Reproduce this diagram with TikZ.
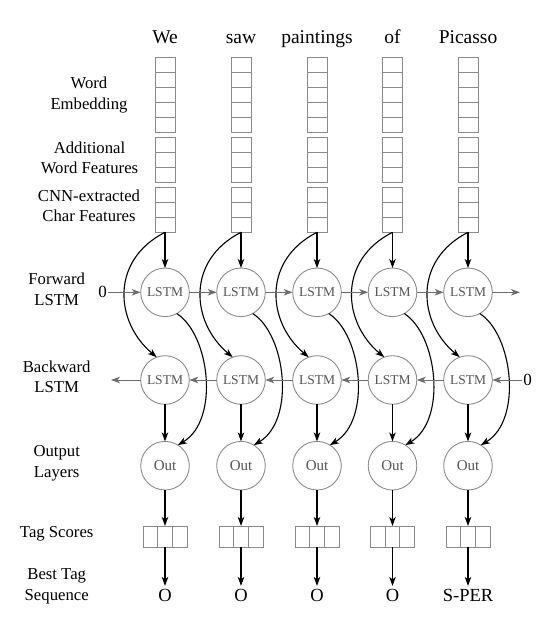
\documentclass[tikz,border=0pt]{standalone}
\usepackage{fontspec}
\setmainfont{Liberation Serif}
\usetikzlibrary{arrows.meta}
\definecolor{boxgray}{HTML}{8A8A8A}
\definecolor{circgray}{HTML}{8C8C8C}
\definecolor{txtgray}{HTML}{555555}
\definecolor{arrgray}{HTML}{6E6E6E}
\begin{document}
\begin{tikzpicture}[x=1pt,y=-1pt,
  cell/.style={draw=boxgray, line width=0.9pt, minimum width=20pt, minimum height=15pt, inner sep=0pt, outer sep=0pt},
  tcell/.style={draw=boxgray, line width=0.9pt, minimum width=14.67pt, minimum height=21.3pt, inner sep=0pt, outer sep=0pt},
  unit/.style={circle, draw=circgray, line width=0.9pt, minimum size=48.6pt, inner sep=0pt, outer sep=0pt, text=txtgray},
  lstmfont/.style={font=\fontsize{13.5}{14}\selectfont},
  outfont/.style={font=\fontsize{15}{16}\selectfont},
  arr/.style={-{Stealth[length=9pt,width=6.5pt,inset=2.5pt]}, line width=1.1pt, draw=black},
  garr/.style={-{Stealth[length=9pt,width=6.5pt,inset=2.5pt]}, line width=1pt, draw=arrgray},
  lbl/.style={align=center, font=\fontsize{16.7}{20.5}\selectfont, inner sep=0pt},
  word/.style={font=\fontsize{19.5}{22}\selectfont, anchor=base},
  tag/.style={font=\fontsize{18.5}{20}\selectfont, anchor=base},
  zero/.style={font=\fontsize{17}{18}\selectfont, inner sep=1pt},
]
\useasboundingbox (0,0) rectangle (555,629);

% left labels
\node[lbl] (lwe) at (89,95) {Word\\Embedding};
\node[lbl] (lawf) at (89.5,158) {Additional\\Word Features};
\node[lbl] (lcnn) at (89,206) {CNN-extracted\\Char Features};
\node[lbl] (lfw) at (56.7,289.5) {Forward\\LSTM};
\node[lbl] (lbw) at (56.7,377) {Backward\\LSTM};
\node[lbl] (lout) at (56.7,463.3) {Output\\Layers};
\node[lbl] (lts) at (56.7,534) {Tag Scores};
\node[lbl] (lbts) at (56.7,586.3) {Best Tag\\Sequence};

\foreach \i/\x/\w/\t in {1/165/We/O,2/241/saw/O,3/317/paintings/O,4/392.5/of/O,5/468/Picasso/S-PER}{
  \node[word] (w\i) at (\x,43.5) {\w};
  \foreach \k in {0,...,4}{ \node[cell] (e\i-\k) at (\x,64.8+15*\k) {}; }
  \foreach \k in {0,...,2}{ \node[cell] (a\i-\k) at (\x,144.8+15*\k) {}; }
  \foreach \k in {0,...,2}{ \node[cell] (c\i-\k) at (\x,194.8+15*\k) {}; }
  \node[unit,lstmfont] (f\i) at (\x,292.3) {LSTM};
  \node[unit,lstmfont] (b\i) at (\x,380) {LSTM};
  \node[unit,outfont] (o\i) at (\x,465.7) {Out};
  \node[tcell] (s\i-1) at (\x,536.6) {};
  \node[tcell, anchor=east] (s\i-0) at (s\i-1.west) {};
  \node[tcell, anchor=west] (s\i-2) at (s\i-1.east) {};
  \node[tag] (t\i) at (\x,601.7) {\t};
  % vertical arrows
  \draw[arr] (c\i-2.south) -- (f\i.north);
  \draw[arr] (b\i.south) -- (o\i.north);
  \draw[arr] (o\i.south) -- (s\i-1.north);
  \draw[arr] (s\i-1.south) -- (t\i.north);
  % skip curves
  \draw[arr] (c\i-2.south) .. controls +(-55,28) and +(-41.7,-35) .. (b\i.110);
  \draw[arr] (f\i.-61) .. controls +(33,21) and +(42,-25) .. (o\i.58);
}

% recurrent connections
\node[zero] (z0) at (102.5,292.3) {0};
\node[zero] (z1) at (527.5,380) {0};
\coordinate (fend) at (520,292.3);
\coordinate (bend) at (111,380);
\draw[garr] (z0.east) -- (f1.west);
\foreach \i/\j in {1/2,2/3,3/4,4/5}{
  \draw[garr] (f\i.east) -- (f\j.west);
  \draw[garr] (b\j.west) -- (b\i.east);
}
\draw[garr] (f5.east) -- (fend);
\draw[garr] (b1.west) -- (bend);
\draw[garr] (z1.west) -- (b5.east);
\end{tikzpicture}
\end{document}
